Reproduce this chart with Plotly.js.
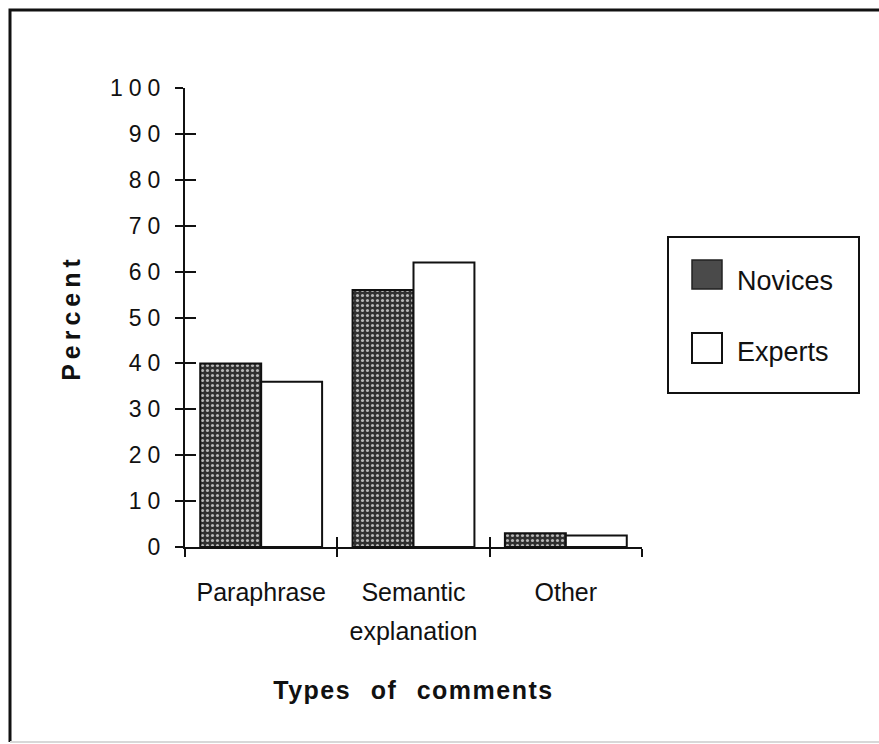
<!DOCTYPE html>
<html>
<head>
<meta charset="utf-8">
<script src="https://cdn.plot.ly/plotly-3.0.1.min.js"></script>
<style>
  html, body { margin: 0; padding: 0; background: #fff; }
  #chart { width: 879px; height: 744px; }
</style>
</head>
<body>
<div id="chart"></div>
<script>
// ---- data ----
const categories = ['Paraphrase', 'Semantic<br>explanation', 'Other'];
const seriesNames = ['Novices', 'Experts'];
const novices = [40, 56, 3];
const experts = [36, 62, 2.5];
const yTickVals = [0, 10, 20, 30, 40, 50, 60, 70, 80, 90, 100];
const yTickText = ['0', '10', '20', '30', '40', '50', '60', '70', '80', '90', '100'];
const xTitle = 'Types of comments';
const yTitle = 'Percent';

// ---- geometry helpers (pixel -> paper) ----
const W = 879, H = 744;
const M = { l: 185, r: 237, t: 88, b: 197 };
const PW = W - M.l - M.r, PH = H - M.t - M.b;
const px = x => (x - M.l) / PW;
const py = y => (H - M.b - y) / PH;

const FONT = 'Liberation Sans, Arial, Helvetica, sans-serif';

const traces = [
  {
    type: 'bar', name: seriesNames[0], x: categories, y: novices,
    marker: {
      color: '#333333',
      line: { color: '#111', width: 2 },
      pattern: { shape: '.', bgcolor: '#303030', fgcolor: '#b8b8b8', size: 5, solidity: 0.3 }
    },
    showlegend: false, hoverinfo: 'skip'
  },
  {
    type: 'bar', name: seriesNames[1], x: categories, y: experts,
    marker: { color: '#ffffff', line: { color: '#111', width: 2 } },
    showlegend: false, hoverinfo: 'skip'
  },
  {
    type: 'scatter', mode: 'markers', x: categories, y: [null, null, null],
    xaxis: 'x2', yaxis: 'y2', showlegend: false, hoverinfo: 'skip'
  }
];

// custom legend (box, swatches, labels) and outer frame
const shapes = [
  { type: 'path', xref: 'paper', yref: 'paper',
    path: `M ${px(10)},${py(742)} L ${px(10)},${py(10)} L ${px(879)},${py(10)}`,
    line: { color: '#111', width: 3 } },
  { type: 'line', xref: 'paper', yref: 'paper', x0: px(10), x1: px(879), y0: py(742), y1: py(742),
    line: { color: '#d8d8d8', width: 2 } },
  { type: 'rect', xref: 'paper', yref: 'paper', x0: px(668), x1: px(859), y0: py(393), y1: py(237),
    line: { color: '#111', width: 2 }, fillcolor: 'rgba(0,0,0,0)' },
  { type: 'rect', xref: 'paper', yref: 'paper', x0: px(692), x1: px(722), y0: py(289), y1: py(260),
    line: { color: '#222', width: 1.5 }, fillcolor: '#4a4a4a' },
  { type: 'rect', xref: 'paper', yref: 'paper', x0: px(692), x1: px(722), y0: py(363), y1: py(333),
    line: { color: '#111', width: 2 }, fillcolor: '#ffffff' }
];

const annotations = [
  { xref: 'paper', yref: 'paper', x: px(735), y: py(281), xanchor: 'left', yanchor: 'middle',
    text: seriesNames[0], showarrow: false, font: { family: FONT, size: 27, color: '#111' } },
  { xref: 'paper', yref: 'paper', x: px(735), y: py(352), xanchor: 'left', yanchor: 'middle',
    text: seriesNames[1], showarrow: false, font: { family: FONT, size: 27, color: '#111' } }
];

const layout = {
  width: W, height: H,
  margin: { l: M.l, r: M.r, t: M.t, b: M.b, pad: 0 },
  paper_bgcolor: '#ffffff', plot_bgcolor: '#ffffff',
  barmode: 'group', bargap: 0.2, bargroupgap: 0,
  showlegend: false,
  font: { family: FONT, color: '#111' },
  xaxis: {
    type: 'category', range: [-0.5, 2.5], fixedrange: true,
    showline: true, linecolor: '#111', linewidth: 2,
    ticks: 'outside', ticklen: 8, tickwidth: 2, tickcolor: '#111', tickson: 'boundaries',
    showgrid: false, zeroline: false,
    tickfont: { family: FONT, size: 25, color: '#111' },
    ticklabelstandoff: 22,
    title: { text: xTitle, font: { family: FONT, size: 25, weight: 'bold', color: '#111' }, standoff: 44 }
  },
  yaxis: {
    range: [0, 100], fixedrange: true,
    tickmode: 'array', tickvals: yTickVals, ticktext: yTickText,
    showline: true, linecolor: '#111', linewidth: 2,
    ticks: 'outside', ticklen: 8, tickwidth: 2, tickcolor: '#111',
    showgrid: false, zeroline: false,
    tickfont: { family: FONT, size: 23, color: '#111' },
    ticklabelstandoff: 4,
    title: { text: yTitle, font: { family: FONT, size: 25, weight: 'bold', color: '#111' }, standoff: 40 }
  },
  xaxis2: {
    type: 'category', overlaying: 'x', range: [-0.5, 2.5], fixedrange: true,
    ticks: 'inside', ticklen: 10, tickwidth: 2, tickcolor: '#111', tickson: 'boundaries',
    showticklabels: false, showline: false, showgrid: false, zeroline: false
  },
  yaxis2: {
    overlaying: 'y', side: 'left', range: [0, 100], fixedrange: true,
    tickmode: 'array', tickvals: yTickVals,
    ticks: 'inside', ticklen: 11, tickwidth: 2, tickcolor: '#111',
    showticklabels: false, showline: false, showgrid: false, zeroline: false
  },
  shapes: shapes,
  annotations: annotations
};

Plotly.newPlot('chart', traces, layout, { displayModeBar: false, staticPlot: true }).then(gd => {
  gd.querySelectorAll('.ytick text').forEach(t => { t.style.letterSpacing = '6px'; });
  gd.querySelectorAll('.ytitle').forEach(t => { t.style.letterSpacing = '5px'; });
  gd.querySelectorAll('.xtitle').forEach(t => { t.style.letterSpacing = '1.5px'; t.style.wordSpacing = '11px'; });
  gd.querySelectorAll('.xtick text tspan.line').forEach(ts => {
    if (ts.getAttribute('dy') && ts.getAttribute('dy') !== '0em') ts.setAttribute('dy', '1.55em');
  });
});
</script>
</body>
</html>
